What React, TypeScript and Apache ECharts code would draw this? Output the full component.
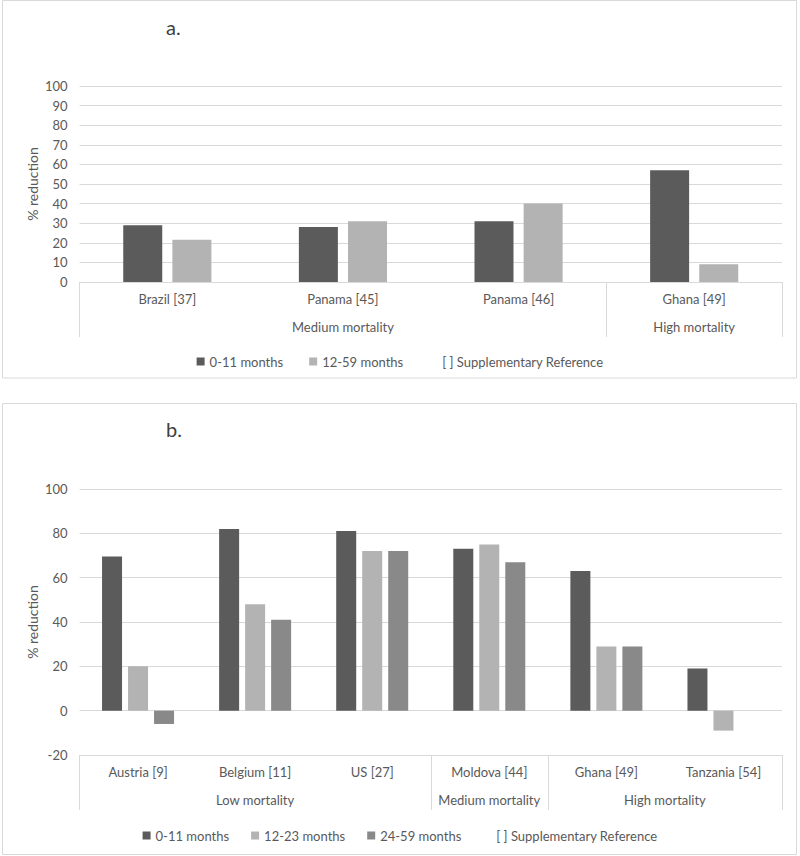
import React, { useEffect, useRef } from "react";
import * as echarts from "echarts";

// ---- Panel a data ----
const categoriesA = ["Brazil [37]", "Panama [45]", "Panama [46]", "Ghana [49]"];
const groupLabelsA = ["Medium mortality", "High mortality"];
const groupSpansA = [3, 1];
const a0to11 = [29, 28, 31, 57];
const a12to59 = [21.5, 31, 40, 9];
const ticksA = { min: 0, max: 100, interval: 10 };

// ---- Panel b data ----
const categoriesB = ["Austria [9]", "Belgium [11]", "US [27]", "Moldova [44]", "Ghana [49]", "Tanzania [54]"];
const groupLabelsB = ["Low mortality", "Medium mortality", "High mortality"];
const groupSpansB = [3, 1, 2];
const b0to11 = [69.5, 82, 81, 73, 63, 19];
const b12to23 = [20, 48, 72, 75, 29, -9];
const b24to59 = [-6, 41, 72, 67, 29, null];
const ticksB = { min: -20, max: 100, interval: 20 };

const SUPP = "[ ] Supplementary Reference";
const C_DARK = "#5b5b5b";
const C_LIGHT = "#b3b3b3";
const C_MID = "#898989";
const TXT = "#595959";
const GRIDC = "#d9d9d9";
const FONT = "Lato, 'Open Sans', sans-serif";

function groupInfo(spans: number[], labels: string[]) {
  const bounds: number[] = [0];
  const centers: number[] = [];
  let acc = 0;
  spans.forEach((s) => {
    centers.push(acc + s / 2);
    acc += s;
    bounds.push(acc);
  });
  const map: Record<string, string> = {};
  centers.forEach((c, i) => (map[String(c)] = labels[i]));
  return { bounds, centers, map, total: acc };
}

function catAxis(gridIndex: number, data: string[]) {
  return {
    type: "category",
    gridIndex,
    position: "bottom",
    data,
    axisLine: { show: true, onZero: false, lineStyle: { color: GRIDC, width: 1 } },
    axisTick: { show: false },
    axisLabel: { interval: 0, color: TXT, fontSize: 13, fontFamily: FONT, margin: 10 },
    splitLine: { show: false },
  };
}

function groupAxis(gridIndex: number, spans: number[], labels: string[]) {
  const g = groupInfo(spans, labels);
  return {
    type: "value",
    gridIndex,
    position: "bottom",
    min: 0,
    max: g.total,
    axisLine: { show: false, onZero: false },
    splitLine: { show: false },
    axisTick: { show: true, customValues: g.bounds, length: 55, lineStyle: { color: GRIDC, width: 1 } },
    axisLabel: {
      show: true,
      customValues: g.centers,
      formatter: (v: number) => g.map[String(v)] || "",
      color: TXT,
      fontSize: 13,
      fontFamily: FONT,
      margin: 38,
      showMinLabel: true,
      showMaxLabel: true,
    },
  };
}

function valAxis(gridIndex: number, t: { min: number; max: number; interval: number }) {
  return {
    type: "value",
    gridIndex,
    min: t.min,
    max: t.max,
    interval: t.interval,
    name: "% reduction",
    nameLocation: "middle",
    nameGap: 40,
    nameMoveOverlap: false,
    nameRotate: 90,
    nameTextStyle: { color: TXT, fontSize: 14, fontFamily: FONT },
    axisLine: { show: false },
    axisTick: { show: false },
    axisLabel: { color: TXT, fontSize: 13, fontFamily: FONT, margin: 12 },
    splitLine: { show: true, lineStyle: { color: GRIDC, width: 1 } },
  };
}

function legendData(names: string[]) {
  return names.map((n) =>
    n === SUPP ? { name: n, icon: "rect", itemStyle: { opacity: 0 } } : { name: n, icon: "rect" }
  );
}

export default function App() {
  const ref = useRef<HTMLDivElement>(null);
  useEffect(() => {
    if (!ref.current) return;
    const chart = echarts.init(ref.current, undefined, { renderer: "svg" });
    const option: any = {
      animation: false,
      backgroundColor: "#ffffff",
      title: [
        { text: "a.", left: 161, top: 12, textStyle: { fontSize: 20, fontWeight: "normal", color: "#404040", fontFamily: FONT } },
        { text: "b.", left: 161, top: 414, textStyle: { fontSize: 20, fontWeight: "normal", color: "#404040", fontFamily: FONT } },
      ],
      graphic: [
        { type: "rect", shape: { x: 2.5, y: 0.5, width: 794, height: 377.5 }, style: { fill: "none", stroke: GRIDC, lineWidth: 1 }, silent: true },
        { type: "rect", shape: { x: 2.5, y: 403.5, width: 794, height: 451 }, style: { fill: "none", stroke: GRIDC, lineWidth: 1 }, silent: true },
      ],
      legend: [
        {
          data: legendData(["0-11 months", "12-59 months", SUPP]),
          left: "center",
          top: 350,
          itemWidth: 8,
          itemHeight: 8,
          itemGap: 26,
          selectedMode: false,
          textStyle: { color: TXT, fontSize: 13, fontFamily: FONT },
        },
        {
          data: legendData(["0-11 months", "12-23 months", "24-59 months", SUPP]),
          left: "center",
          top: 824,
          itemWidth: 8,
          itemHeight: 8,
          itemGap: 22,
          selectedMode: false,
          textStyle: { color: TXT, fontSize: 13, fontFamily: FONT },
        },
      ],
      grid: [
        { left: 79.5, right: 18, top: 86, height: 196 },
        { left: 79.5, right: 18, top: 489, height: 266 },
      ],
      xAxis: [
        catAxis(0, categoriesA),
        groupAxis(0, groupSpansA, groupLabelsA),
        catAxis(1, categoriesB),
        groupAxis(1, groupSpansB, groupLabelsB),
      ],
      yAxis: [valAxis(0, ticksA), valAxis(1, ticksB)],
      series: [
        { type: "bar", name: "0-11 months", xAxisIndex: 0, yAxisIndex: 0, data: a0to11, barWidth: 39, barGap: "26%", itemStyle: { color: C_DARK } },
        { type: "bar", name: "12-59 months", xAxisIndex: 0, yAxisIndex: 0, data: a12to59, barWidth: 39, barGap: "26%", itemStyle: { color: C_LIGHT } },
        { type: "line", name: SUPP, xAxisIndex: 0, yAxisIndex: 0, data: [], itemStyle: { color: "#ffffff" } },
        { type: "bar", name: "0-11 months", xAxisIndex: 2, yAxisIndex: 1, data: b0to11, barWidth: 20, barGap: "30%", itemStyle: { color: C_DARK } },
        { type: "bar", name: "12-23 months", xAxisIndex: 2, yAxisIndex: 1, data: b12to23, barWidth: 20, barGap: "30%", itemStyle: { color: C_LIGHT } },
        { type: "bar", name: "24-59 months", xAxisIndex: 2, yAxisIndex: 1, data: b24to59, barWidth: 20, barGap: "30%", itemStyle: { color: C_MID } },
        { type: "line", name: SUPP, xAxisIndex: 2, yAxisIndex: 1, data: [], itemStyle: { color: "#ffffff" } },
      ],
    };
    chart.setOption(option);
    return () => chart.dispose();
  }, []);
  return (
    <div
      ref={ref}
      style={{ position: "absolute", left: 0, top: 0, width: 800, height: 856, background: "#fff" }}
    />
  );
}
